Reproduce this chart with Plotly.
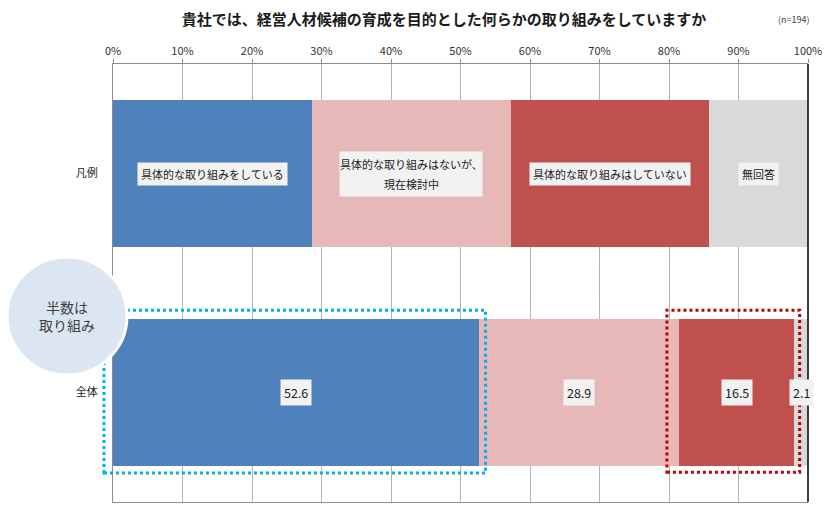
import plotly.graph_objects as go

# data
categories = ["凡例", "全体"]
series_names = ["具体的な取り組みをしている", "具体的な取り組みはないが、<br>現在検討中",
                "具体的な取り組みはしていない", "無回答"]
legend_widths = [28.6, 28.6, 28.6, 14.2]
total_values = [52.6, 28.9, 16.5, 2.1]
colors = ["#4F81BD", "#E6B9B8", "#C0504D", "#D9D9D9"]
tick_vals = [0, 10, 20, 30, 40, 50, 60, 70, 80, 90, 100]
tick_text = [f"{v}%" for v in tick_vals]

FONT = "Noto Sans CJK JP"

fig = go.Figure()

for i in range(len(series_names)):
    fig.add_trace(go.Bar(
        y=categories,
        x=[legend_widths[i], total_values[i]],
        orientation="h",
        marker=dict(color=colors[i], line=dict(width=0)),
        width=0.67,
        name=series_names[i],
        hoverinfo="skip",
    ))

annotations = []

# labels inside the legend row and value labels in the total row
left_l = 0
left_t = 0
for i in range(len(series_names)):
    cx = left_l + legend_widths[i] / 2
    lines = series_names[i].split("<br>")
    if len(lines) == 1:
        annotations.append(dict(
            x=cx, y=categories[0], xref="x", yref="y",
            text=series_names[i], showarrow=False, bgcolor="#F2F2F2",
            font=dict(family=FONT, size=11, color="#1a1a1a"), borderpad=3,
        ))
    else:
        # two-line label: a grey box with wider line spacing
        annotations.append(dict(
            x=cx, y=categories[0], xref="x", yref="y", text=" ",
            showarrow=False, bgcolor="#F2F2F2", width=140, height=42,
            font=dict(family=FONT, size=11),
        ))
        for j, line in enumerate(lines):
            annotations.append(dict(
                x=cx, y=categories[0], xref="x", yref="y", text=line,
                showarrow=False, yshift=10 - 20 * j,
                font=dict(family=FONT, size=11, color="#1a1a1a"),
            ))
    annotations.append(dict(
        x=left_t + total_values[i] / 2, y=categories[1], xref="x", yref="y",
        text=f"{total_values[i]:.1f}", showarrow=False, bgcolor="#F2F2F2",
        font=dict(family=FONT, size=12.5, color="#1a1a1a"), borderpad=3,
    ))
    left_l += legend_widths[i]
    left_t += total_values[i]

annotations.append(dict(
    x=1.006, y=1 + (64 - 20) / 438, xref="paper", yref="paper", xanchor="right",
    yanchor="middle", text="(n=194)", showarrow=False,
    font=dict(family=FONT, size=9, color="#404040"),
))

# circle text
annotations.append(dict(
    x=(67 - 113) / 695, y=1 - (316 - 64) / 438, xref="paper", yref="paper",
    xanchor="center", yanchor="middle",
    text="半数は<br>取り組み", showarrow=False,
    font=dict(family=FONT, size=14, color="#404040"),
))

shapes = []
# highlight boxes, edges from the data
blue_end = total_values[0] / 100
red_start = (total_values[0] + total_values[1]) / 100
red_end = (total_values[0] + total_values[1] + total_values[2]) / 100
shapes.append(dict(
    type="rect", xref="x domain", yref="y domain",
    x0=-0.013, x1=blue_end + 0.01, y0=0.066, y1=0.438,
    line=dict(color="#00B0F0", width=3, dash="dot"), layer="above",
))
shapes.append(dict(
    type="rect", xref="x domain", yref="y domain",
    x0=red_start - 0.018, x1=red_end + 0.008, y0=0.068, y1=0.438,
    line=dict(color="#C00000", width=3, dash="dot"), layer="above",
))
# right border
shapes.append(dict(
    type="line", xref="x domain", yref="y domain", x0=1, x1=1, y0=0, y1=1,
    line=dict(color="#000000", width=1.5), layer="above",
))
# circle
shapes.append(dict(
    type="circle", xref="paper", yref="paper",
    x0=(67 - 60 - 113) / 695, x1=(67 + 60 - 113) / 695,
    y0=1 - (316 + 59 - 64) / 438, y1=1 - (316 - 59 - 64) / 438,
    fillcolor="#DCE6F2", line=dict(color="#FFFFFF", width=3), layer="above",
))

fig.update_layout(
    barmode="stack",
    width=829, height=506,
    margin=dict(l=113, r=21, t=64, b=4),
    plot_bgcolor="white", paper_bgcolor="white",
    showlegend=False,
    bargap=0,
    title=dict(
        text="<b>貴社では、経営人材候補の育成を目的とした何らかの取り組みをしていますか</b>",
        x=444 / 829, xanchor="center", y=1 - 20 / 506, yanchor="middle",
        font=dict(family=FONT, size=15, color="#1a1a1a"),
    ),
    font=dict(family=FONT),
    annotations=annotations,
    shapes=shapes,
)

fig.update_xaxes(
    side="top", range=[0, 100], tickvals=tick_vals, ticktext=tick_text,
    showgrid=True, gridcolor="#B3B3B3", gridwidth=1,
    showline=True, linecolor="#8C8C8C", linewidth=1, mirror=True,
    ticks="outside", ticklen=4, tickcolor="#8C8C8C",
    tickfont=dict(family=FONT, size=11, color="#333333"),
    zeroline=False, fixedrange=True, automargin=False,
)
fig.update_yaxes(
    autorange="reversed", showgrid=False,
    showline=True, linecolor="#8C8C8C", linewidth=1,
    ticks="", ticklabelstandoff=12,
    tickfont=dict(family=FONT, size=11, color="#1a1a1a"),
    fixedrange=True, automargin=False,
)

# the page's default body margin would shift the figure by 8px
fig.write_html("out.html", config={"displayModeBar": False},
               post_script="document.body.style.margin='0';")
